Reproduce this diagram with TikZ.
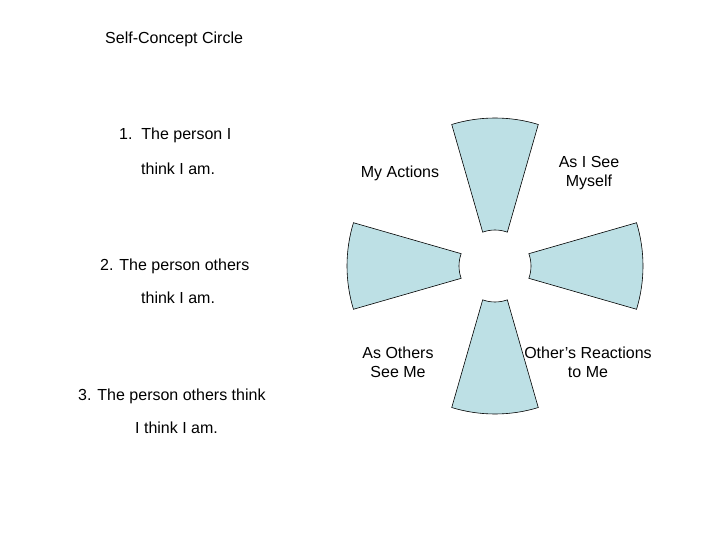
\documentclass[tikz,border=0pt]{standalone}
\usepackage{fontspec}
\usetikzlibrary{calc}
\setmainfont{Liberation Sans}
\definecolor{segc}{HTML}{BDE0E5}
\begin{document}
\begin{tikzpicture}[x=1pt,y=-1pt,
  seg/.style={draw=black,fill=segc,line width=0.6pt},
  lbl/.style={font=\fontsize{16}{19}\selectfont,align=center,inner sep=0pt}]
\useasboundingbox (0,0) rectangle (720,540);
\fill[white] (0,0) rectangle (720,540);
\coordinate (c) at (495,266);
\foreach \a in {90,0,180,270}{
  \path[seg] ($(c)+(\a-17:148)$) arc[start angle=\a-17,end angle=\a+17,radius=148]
    -- ($(c)+(\a+20:36)$) arc[start angle=\a+20,end angle=\a-20,radius=36] -- cycle;
}
\node[lbl,anchor=west] (title) at (105,39) {Self-Concept Circle};
\node[lbl,anchor=west] (p1a) at (119,135) {1.\ \ The person I};
\node[lbl,anchor=west] (p1b) at (141,169) {think I am.};
\node[lbl,anchor=west] (p2a) at (100,266) {2. The person others};
\node[lbl,anchor=west] (p2b) at (141,298) {think I am.};
\node[lbl,anchor=west] (p3a) at (78,396) {3. The person others think};
\node[lbl,anchor=west] (p3b) at (135,428) {I think I am.};
\node[lbl] (ma) at (400,173) {My Actions};
\node[lbl] (ais) at (589,173) {As I See\\ Myself};
\node[lbl] (aos) at (398,362) {As Others\\ See Me};
\node[lbl] (orm) at (588,362) {Other’s Reactions\\ to Me};
\end{tikzpicture}
\end{document}
